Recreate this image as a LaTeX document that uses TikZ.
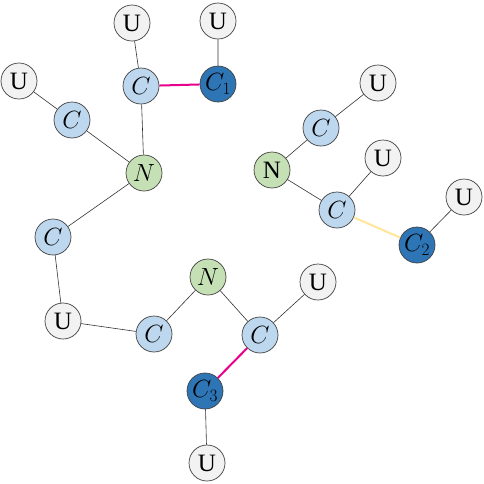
\documentclass[tikz,border=0pt]{standalone}
\usepackage{fontspec}
\setmainfont{Liberation Serif}
\definecolor{lb}{HTML}{BDD7EE}
\definecolor{db}{HTML}{2E75B6}
\definecolor{gr}{HTML}{C5E0B4}
\definecolor{ug}{HTML}{F2F2F2}
\definecolor{pk}{HTML}{E6008C}
\definecolor{yl}{HTML}{FFE699}
\begin{document}
\begin{tikzpicture}[x=1pt,y=-1pt,
  atom/.style={circle,draw=black!75,line width=0.7pt,minimum size=36pt,inner sep=0pt,font=\fontsize{25}{28}\selectfont},
  uat/.style={atom,fill=ug},
  cat/.style={atom,fill=lb},
  dat/.style={atom,fill=db},
  nat/.style={atom,fill=gr},
  bond/.style={draw=black!80,line width=0.6pt},
  pbond/.style={draw=pk,line width=2pt},
  ybond/.style={draw=yl,line width=2pt}]
\useasboundingbox (0,0) rectangle (484,483);
% left cluster
\node[uat] (u1) at (132,23) {U};
\node[uat] (u2) at (218,21) {U};
\node[cat] (c1) at (141,86) {$C$};
\node[dat] (cc1) at (218,84) {$C_1$};
\node[uat] (u3) at (19,81) {U};
\node[cat] (c2) at (72,120) {$C$};
\node[nat] (n1) at (144,173) {$N$};
\node[cat] (c3) at (53,237) {$C$};
\node[uat] (u4) at (63,321) {U};
\node[cat] (c4) at (154,334) {$C$};
\node[nat] (n2) at (208,277) {$N$};
\node[cat] (c5) at (260,335) {$C$};
\node[uat] (u5) at (318,282) {U};
\node[dat] (cc3) at (205,391) {$C_3$};
\node[uat] (u6) at (207,463) {U};
% right cluster
\node[uat] (u7) at (378,83) {U};
\node[cat] (c6) at (321,128) {$C$};
\node[nat] (n3) at (272,170) {N};
\node[uat] (u8) at (383,158) {U};
\node[cat] (c7) at (337,210) {$C$};
\node[uat] (u9) at (464,197) {U};
\node[dat] (cc2) at (417,245) {$C_2$};
\path[bond] (u1) -- (c1) (u2) -- (cc1) (c1) -- (n1) (u3) -- (c2) (c2) -- (n1)
  (n1) -- (c3) (c3) -- (u4) (u4) -- (c4) (c4) -- (n2) (n2) -- (c5) (c5) -- (u5)
  (cc3) -- (u6) (u7) -- (c6) (c6) -- (n3) (n3) -- (c7) (c7) -- (u8) (cc2) -- (u9);
\path[pbond] (c1) -- (cc1) (c5) -- (cc3);
\path[ybond] (c7) -- (cc2);
\end{tikzpicture}
\end{document}
